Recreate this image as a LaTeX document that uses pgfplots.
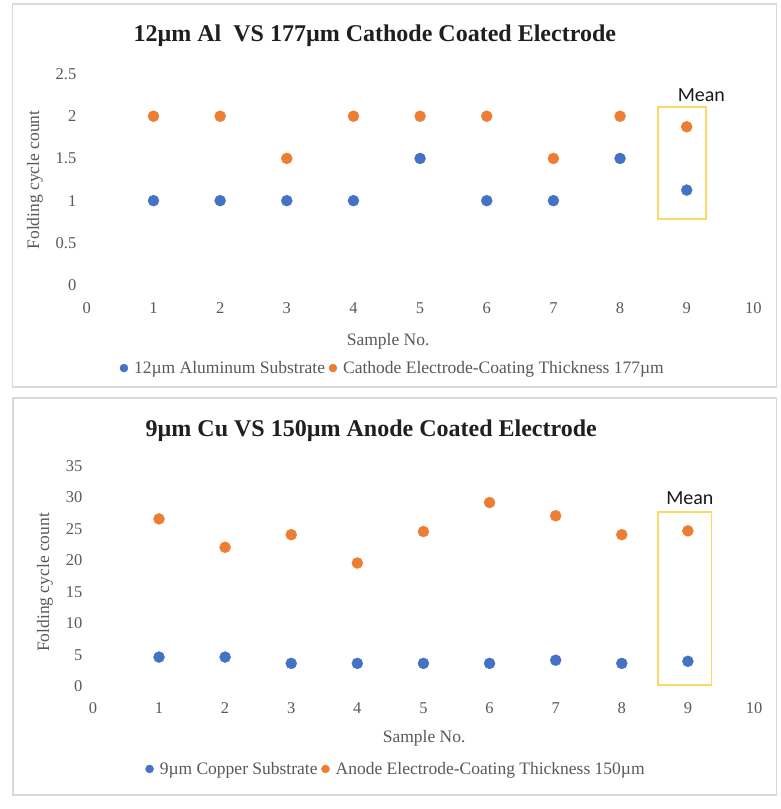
\documentclass[border=0pt]{standalone}
\usepackage{pgfplots}
\pgfplotsset{compat=1.18}
\usepackage{fontspec}
\setmainfont{Liberation Serif}
\newfontfamily\calibri{Carlito}
\definecolor{xblue}{HTML}{4472C4}
\definecolor{xorange}{HTML}{ED7D31}
\definecolor{xyellow}{HTML}{FFD966}
\definecolor{xgray}{HTML}{595959}
\definecolor{xframe}{HTML}{D9D9D9}
\pgfplotsset{
  myax/.style={
    scale only axis, anchor=south west,
    xmin=0, xmax=10, xtick={0,1,2,3,4,5,6,7,8,9,10},
    axis line style={draw=none}, tick style={draw=none}, major tick length=0pt,
    tick label style={font=\fontsize{16.5}{18}\selectfont, text=xgray},
    /pgf/number format/assume math mode=true,
    yticklabel style={anchor=east, xshift=-7pt},
    label style={font=\fontsize{17.5}{20}\selectfont, text=xgray},
    title style={font=\bfseries\fontsize{24}{28}\selectfont, text=black!88, anchor=center},
    legend style={draw=none, fill=none, font=\fontsize{17.5}{20}\selectfont, text=xgray,
      anchor=center, /tikz/every even column/.append style={column sep=1.7pt}},
    legend columns=2,
    legend image code/.code={\path[draw=none, fill=none] (-4pt,-4pt) rectangle (8.2pt,4pt); \fill[##1] (0pt,0pt) circle (4pt);},
    clip=false,
  },
  mk/.style={only marks, mark=*, mark size=5.5pt, color=#1, mark options={draw=none, fill=#1}},
}
\begin{document}
\begin{tikzpicture}[x=1pt,y=1pt]
\fill[white] (0,0) rectangle (780,809);
\draw[xframe, line width=1.5pt] (12.5,422) rectangle (776.5,805);
\draw[xframe, line width=1.5pt] (13,14) rectangle (776.5,411);
\begin{axis}[myax, at={(86.85pt,523.9pt)}, width=666.5pt, height=211.1pt,
  ymin=0, ymax=2.5, ytick={0,0.5,1,1.5,2,2.5},
  xticklabel style={anchor=center, yshift=-23pt},
  title={12µm Al\ \ VS 177µm Cathode Coated Electrode},
  title style={at={(axis description cs:0.432,1.152)}},
  xlabel={Sample No.}, xlabel style={at={(axis description cs:0.452,-0.265)}, anchor=center},
  ylabel={Folding cycle count}, ylabel style={at={(axis description cs:-0.0778,0.498)}, anchor=center, rotate=0},
  legend style={at={(axis description cs:0.459,-0.393)}},
]
\draw[xyellow, line width=1.6pt] (axis cs:8.57,0.78) rectangle (axis cs:9.29,2.11);
\node[font=\calibri\fontsize{20}{24}\selectfont, text=black!90] at (axis cs:9.22,2.25) {Mean};
\addplot[mk=xblue] coordinates {(1,1) (2,1) (3,1) (4,1) (5,1.5) (6,1) (7,1) (8,1.5) (9,1.125)};
\addlegendentry{12µm Aluminum Substrate}
\addplot[mk=xorange] coordinates {(1,2) (2,2) (3,1.5) (4,2) (5,2) (6,2) (7,1.5) (8,2) (9,1.875)};
\addlegendentry{Cathode Electrode-Coating Thickness 177µm}
\end{axis}
\begin{axis}[myax, at={(92.9pt,122.5pt)}, width=661.1pt, height=220.5pt,
  ymin=0, ymax=35, ytick={0,5,10,15,20,25,30,35},
  xticklabel style={anchor=center, yshift=-21.5pt},
  title={9µm Cu VS 150µm Anode Coated Electrode},
  title style={at={(axis description cs:0.421,1.132)}},
  xlabel={Sample No.}, xlabel style={at={(axis description cs:0.501,-0.234)}, anchor=center},
  ylabel={Folding cycle count}, ylabel style={at={(axis description cs:-0.0725,0.472)}, anchor=center, rotate=0},
  legend style={at={(axis description cs:0.4585,-0.374)}},
]
\draw[xyellow, line width=1.6pt] (axis cs:8.55,0.24) rectangle (axis cs:9.36,27.7);
\node[font=\calibri\fontsize{20}{24}\selectfont, text=black!90] at (axis cs:9.03,29.97) {Mean};
\addplot[mk=xblue] coordinates {(1,4.67) (2,4.67) (3,3.67) (4,3.67) (5,3.67) (6,3.67) (7,4.17) (8,3.67) (9,4.0)};
\addlegendentry{9µm Copper Substrate}
\addplot[mk=xorange] coordinates {(1,26.6) (2,22.1) (3,24.1) (4,19.6) (5,24.6) (6,29.2) (7,27.1) (8,24.1) (9,24.7)};
\addlegendentry{Anode Electrode-Coating Thickness 150µm}
\end{axis}
\end{tikzpicture}
\end{document}
